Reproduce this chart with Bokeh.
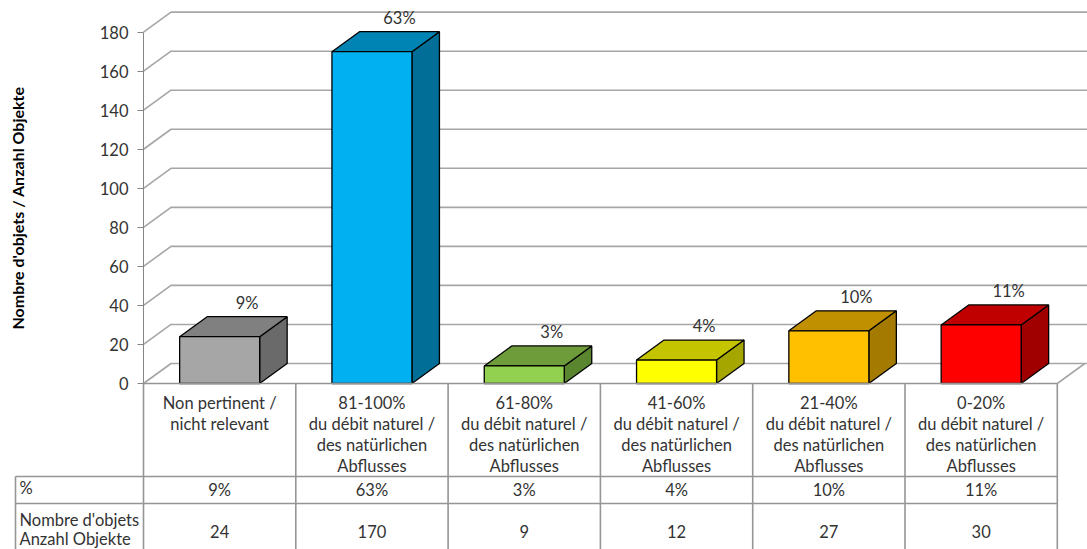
import numpy as np
from bokeh.plotting import figure
from bokeh.models import LinearAxis, FixedTicker, Range1d, ColumnDataSource
from bokeh.core.properties import value
from bokeh.embed import file_html
from bokeh.resources import INLINE

# ---------------- data ----------------
categories = [
    "Non pertinent /\nnicht relevant",
    "81-100%\ndu débit naturel /\ndes natürlichen\nAbflusses",
    "61-80%\ndu débit naturel /\ndes natürlichen\nAbflusses",
    "41-60%\ndu débit naturel /\ndes natürlichen\nAbflusses",
    "21-40%\ndu débit naturel /\ndes natürlichen\nAbflusses",
    "0-20%\ndu débit naturel /\ndes natürlichen\nAbflusses",
]
counts = [24, 170, 9, 12, 27, 30]
percents = ["9%", "63%", "3%", "4%", "10%", "11%"]
y_ticks = [0, 20, 40, 60, 80, 100, 120, 140, 160, 180]
row_headers = ["%", "Nombre d'objets\nAnzahl Objekte"]
y_title = "Nombre d'objets / Anzahl Objekte"

front_colors = ["#A6A6A6", "#00B0F0", "#92D050", "#FFFF00", "#FFC000", "#FF0000"]
top_colors = ["#808080", "#0084B4", "#6E9C3A", "#C4C400", "#C09000", "#C00000"]
side_colors = ["#6A6A6A", "#006E96", "#5A8630", "#A6A600", "#A47A00", "#A00000"]

# ---------------- geometry (style) ----------------
W, H = 1087, 549
COL_PX = 152.3          # pixels per category
PPU = 1.952             # pixels per value unit
AXIS_PX = 143           # axis position in figure pixels
ZERO_PX = 383           # zero line in figure pixels (from top)
DX = 27.5 / COL_PX      # depth offset in x units
DY = 20.0 / PPU         # depth offset in value units
HW = 40.0 / COL_PX      # half bar width

n = len(counts)
x0 = -0.5 - AXIS_PX / COL_PX
x1 = x0 + W / COL_PX
ytop = ZERO_PX / PPU
ybot = -(H - ZERO_PX) / PPU

row1_b = -(476 - ZERO_PX) / PPU
row2_b = -(503 - ZERO_PX) / PPU
row3_b = -(559 - ZERO_PX) / PPU
head_l = -0.5 - (AXIS_PX - 15) / COL_PX
right_edge = n - 0.5

FONT_NAME = "Lato"
FONT = value(FONT_NAME)
TXT = "#333333"
FS = "16.5px"

p = figure(width=W, height=H, output_backend="svg", toolbar_location=None,
           x_range=Range1d(x0, x1), y_range=Range1d(ybot, ytop),
           x_axis_location=None, y_axis_location=None,
           min_border=0, min_border_left=0, min_border_right=0,
           min_border_top=0, min_border_bottom=0, outline_line_color=None)
p.xgrid.visible = False
p.ygrid.visible = False
p.background_fill_color = "white"
p.border_fill_color = "white"

# ---------------- back wall grid / side wall ----------------
gx, gy = [], []
for t in y_ticks:
    gx.append([-0.5, -0.5 + DX, x1 + 1])
    gy.append([t, t + DY, t + DY])
p.multi_line(gx, gy, line_color="#A6A6A6", line_width=1.6)
# floor right edge
p.line([right_edge, right_edge + DX], [0, DY], line_color="#A6A6A6", line_width=1.6)

# ---------------- 3D bars ----------------
fx, fy, tx, ty, sx, sy = [], [], [], [], [], []
for i, v in enumerate(counts):
    l, r = i - HW, i + HW
    fx.append([l, r, r, l]); fy.append([0, 0, v, v])
    tx.append([l, r, r + DX, l + DX]); ty.append([v, v, v + DY, v + DY])
    sx.append([r, r + DX, r + DX, r]); sy.append([0, DY, v + DY, v])
p.patches(sx, sy, fill_color=side_colors, line_color="black", line_width=1.3)
p.patches(tx, ty, fill_color=top_colors, line_color="black", line_width=1.3)
p.patches(fx, fy, fill_color=front_colors, line_color="black", line_width=1.3)

# percentage labels above bars
lab = ColumnDataSource(dict(x=[i + DX for i in range(n)],
                            y=[v + DY for v in counts], t=percents))
p.text("x", "y", text="t", source=lab, text_align="center", text_baseline="middle",
       y_offset=-14, text_font=FONT, text_font_size="16.5px", text_color=TXT)

# ---------------- y axis ----------------
ax = LinearAxis(fixed_location=-0.5, bounds=(0, 180), ticker=FixedTicker(ticks=y_ticks),
                axis_line_color="#868686", axis_line_width=1,
                major_tick_line_color="#868686", major_tick_out=6, major_tick_in=0,
                minor_tick_line_color=None, major_label_standoff=9,
                major_label_text_font=FONT_NAME, major_label_text_font_size="16.5px",
                major_label_text_color=TXT,
                axis_label=y_title, axis_label_standoff=70,
                axis_label_text_font=FONT_NAME, axis_label_text_font_size="16px",
                axis_label_text_font_style="bold", axis_label_text_color="black")
p.add_layout(ax, "left")

# ---------------- data table ----------------
lx, ly = [], []
lx.append([-0.5, right_edge]); ly.append([0, 0])
lx.append([head_l, right_edge]); ly.append([row1_b, row1_b])
lx.append([head_l, right_edge]); ly.append([row2_b, row2_b])
lx.append([head_l, right_edge]); ly.append([row3_b, row3_b])
for k in range(n + 1):
    lx.append([k - 0.5, k - 0.5]); ly.append([0, row3_b])
lx.append([head_l, head_l]); ly.append([row1_b, row3_b])
p.multi_line(lx, ly, line_color="#959595", line_width=1.6)

cat_src = ColumnDataSource(dict(x=list(range(n)), y=[0] * n, t=categories))
p.text("x", "y", text="t", source=cat_src, text_align="center", text_baseline="top",
       y_offset=9, text_font=FONT, text_font_size=FS, text_color=TXT,
       text_line_height=1.05)

pct_src = ColumnDataSource(dict(x=list(range(n)), y=[(row1_b + row2_b) / 2] * n, t=percents))
p.text("x", "y", text="t", source=pct_src, text_align="center", text_baseline="middle",
       text_font=FONT, text_font_size=FS, text_color=TXT)

cnt_src = ColumnDataSource(dict(x=list(range(n)), y=[(row2_b + row3_b) / 2] * n,
                                t=[str(c) for c in counts]))
p.text("x", "y", text="t", source=cnt_src, text_align="center", text_baseline="middle",
       text_font=FONT, text_font_size=FS, text_color=TXT)

hdr_src = ColumnDataSource(dict(x=[head_l, head_l],
                                y=[(row1_b + row2_b) / 2, (row2_b + row3_b) / 2],
                                t=row_headers))
p.text("x", "y", text="t", source=hdr_src, text_align="left", text_baseline="middle",
       x_offset=4, y_offset=-2, text_font=FONT, text_font_size=FS, text_color=TXT,
       text_line_height=0.95)

open("out.html", "w").write(file_html(p, INLINE))
